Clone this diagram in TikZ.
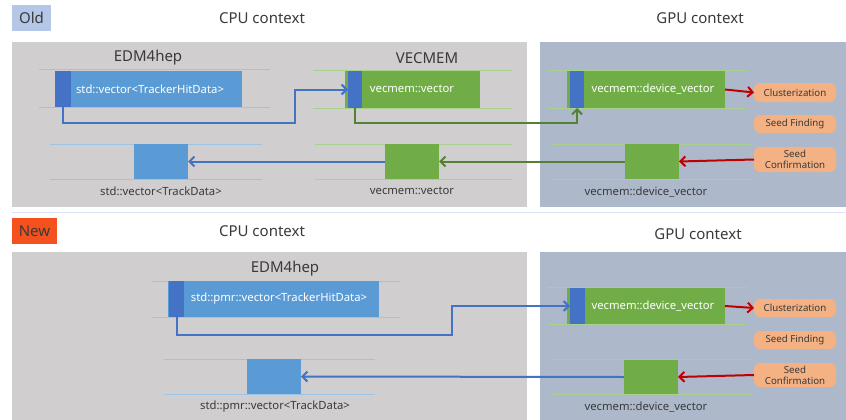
\documentclass[tikz,border=0pt]{standalone}
\usepackage{fontspec}
\setmainfont{Noto Sans}
\usetikzlibrary{arrows.meta}
\definecolor{cpubg}{HTML}{D0CECE}
\definecolor{gpubg}{HTML}{ADB9CA}
\definecolor{oldbg}{HTML}{B4C7E7}
\definecolor{newbg}{HTML}{F4511E}
\definecolor{bfill}{HTML}{5B9BD5}
\definecolor{dblue}{HTML}{4472C4}
\definecolor{gfill}{HTML}{70AD47}
\definecolor{gdark}{HTML}{548235}
\definecolor{bline}{HTML}{9DC3E6}
\definecolor{gline}{HTML}{A9D18E}
\definecolor{ofill}{HTML}{F4B183}
\definecolor{rarr}{HTML}{C00000}
\definecolor{txt}{HTML}{3A3A3A}
\definecolor{sepc}{HTML}{DAE3F3}
\begin{document}
\begin{tikzpicture}[x=1pt,y=-1pt,
  rbox/.style={anchor=north west,inner sep=0pt,outer sep=0pt,draw=none},
  bluebox/.style={rbox,fill=bfill},
  darkbox/.style={rbox,fill=dblue},
  greenbox/.style={rbox,fill=gfill},
  procbox/.style={rbox,fill=ofill,rounded corners=6pt,font=\fontsize{9.7}{11}\selectfont,text=txt,align=center},
  title/.style={font=\fontsize{15}{17}\selectfont,text=txt,inner sep=0pt},
  intext/.style={font=\fontsize{11.3}{13}\selectfont,text=white,inner sep=0pt},
  lbl/.style={font=\fontsize{11.3}{13}\selectfont,text=txt,inner sep=0pt},
  bl/.style={draw=bline,line width=1pt},
  gl/.style={draw=gline,line width=1pt},
  barr/.style={draw=dblue,line width=2pt,-{Straight Barb[length=5pt,width=10pt]}},
  garr/.style={draw=gdark,line width=2pt,-{Straight Barb[length=5pt,width=10pt]}},
  rar/.style={draw=rarr,line width=2pt,-{Straight Barb[length=5pt,width=10pt]}}
]
\useasboundingbox (0,0) rectangle (846,420);
\fill[white] (0,0) rectangle (846,420);

% ================= OLD =================
\fill[cpubg] (12,42) rectangle (527,207);
\fill[gpubg] (540,42) rectangle (846,207);
\node[rbox,fill=oldbg,minimum width=39pt,minimum height=26pt,font=\fontsize{15}{17}\selectfont,text=txt] (oldlbl) at (12,5) {Old};
\node[title] (ocpu) at (262,18) {CPU context};
\node[title] (ogpu) at (700,18) {GPU context};
\node[title] (oedm) at (148,58) {EDM4hep};
\node[title] (ovec) at (427,58) {VECMEM};

% EDM4hep old
\draw[bl] (39,70) -- (270,70);
\draw[bl] (39,107) -- (270,107);
\node[bluebox,minimum width=187pt,minimum height=36pt] (ohv) at (55,71) {};
\node[darkbox,minimum width=16pt,minimum height=36pt] (ohd) at (55,71) {};
\node[intext] (ohvt) at (150,89) {std::vector<TrackerHitData>};
\draw[bl] (50,144) -- (262,144);
\draw[bl] (50,179) -- (262,179);
\node[bluebox,minimum width=54pt,minimum height=35pt] (otd) at (134,144) {};
\node[lbl] (otdl) at (161,191) {std::vector<TrackData>};

% VECMEM old
\draw[gl] (313,71) -- (512,71);
\draw[gl] (313,108) -- (512,108);
\node[greenbox,minimum width=135pt,minimum height=37pt] (ovv) at (345,71) {};
\node[darkbox,minimum width=14pt,minimum height=37pt] (ovb) at (348,71) {};
\node[intext] (ovvt) at (412,89) {vecmem::vector};
\draw[gl] (315,144) -- (512,144);
\draw[gl] (315,179) -- (512,179);
\node[greenbox,minimum width=54pt,minimum height=35pt] (ovt) at (385,144) {};
\node[lbl] (ovtl) at (412,191) {vecmem::vector};

% GPU old
\draw[gl] (548,71) -- (747,71);
\draw[gl] (548,108) -- (747,108);
\node[greenbox,minimum width=158pt,minimum height=37pt] (ogv) at (567,71) {};
\node[darkbox,minimum width=14pt,minimum height=37pt] (ogb) at (570,71) {};
\node[intext] (ogvt) at (653,89) {vecmem::device\_vector};
\draw[gl] (552,144) -- (751,144);
\draw[gl] (552,179) -- (751,179);
\node[greenbox,minimum width=54pt,minimum height=35pt] (ogt) at (625,144) {};
\node[lbl] (ogtl) at (646,192) {vecmem::device\_vector};
\node[procbox,minimum width=82pt,minimum height=19pt] (oc) at (754,83) {Clusterization};
\node[procbox,minimum width=82pt,minimum height=18pt] (osf) at (754,115) {Seed Finding};
\node[procbox,minimum width=82pt,minimum height=25pt] (osc) at (754,147) {Seed\\Confirmation};

% connectors old
\coordinate (ob1) at (295,123);
\coordinate (og1) at (577,123);
\draw[barr] (ohd.south) |- (ob1) |- (ovb.west);
\draw[garr] (ovb.south) |- (og1) -- (ogb.south);
\draw[garr] (ogt.west) -- (ovt.east);
\draw[barr] (ovt.west) -- (otd.east);
\draw[rar] (ogv.east) -- (oc.west);
\draw[rar] (osc.west) -- (ogt.east);

% separator
\draw[draw=sepc,line width=0.8pt] (12,212.5) -- (846,212.5);

% ================= NEW =================
\fill[cpubg] (12,252) rectangle (527,420);
\fill[gpubg] (540,252) rectangle (846,420);
\node[rbox,fill=newbg,minimum width=45pt,minimum height=26pt,font=\fontsize{15}{17}\selectfont,text=txt] (newlbl) at (12,218) {New};
\node[title] (ncpu) at (262,231) {CPU context};
\node[title] (ngpu) at (698,234) {GPU context};
\node[title] (nedm) at (285,269) {EDM4hep};

% EDM4hep new
\draw[bl] (152,281) -- (400,281);
\draw[bl] (152,317) -- (400,317);
\node[bluebox,minimum width=211pt,minimum height=36pt] (nhv) at (168,281) {};
\node[darkbox,minimum width=15pt,minimum height=36pt] (nhd) at (169,281) {};
\node[intext] (nhvt) at (279,299) {std::pmr::vector<TrackerHitData>};
\draw[bl] (164,359) -- (375,359);
\draw[bl] (164,394) -- (375,394);
\node[bluebox,minimum width=54pt,minimum height=35pt] (ntd) at (247,359) {};
\node[lbl] (ntdl) at (275,407) {std::pmr::vector<TrackData>};

% GPU new
\draw[gl] (548,287) -- (747,287);
\draw[gl] (548,324) -- (747,324);
\node[greenbox,minimum width=158pt,minimum height=36pt] (ngv) at (567,288) {};
\node[darkbox,minimum width=15pt,minimum height=36pt] (ngb) at (570,288) {};
\node[intext] (ngvt) at (653,306) {vecmem::device\_vector};
\draw[gl] (552,359) -- (751,359);
\draw[gl] (552,394) -- (751,394);
\node[greenbox,minimum width=54pt,minimum height=34pt] (ngt) at (624,360) {};
\node[lbl] (ngtl) at (646,407) {vecmem::device\_vector};
\node[procbox,minimum width=82pt,minimum height=18pt] (nc) at (754,299) {Clusterization};
\node[procbox,minimum width=82pt,minimum height=18pt] (nsf) at (754,331) {Seed Finding};
\node[procbox,minimum width=82pt,minimum height=24pt] (nsc) at (754,363) {Seed\\Confirmation};

% connectors new
\coordinate (nb1) at (452,335);
\draw[barr] (nhd.south) |- (nb1) |- (ngb.west);
\draw[barr] (ngt.west) -- (ntd.east);
\draw[rar] (ngv.east) -- (nc.west);
\draw[rar] (nsc.west) -- (ngt.east);
\end{tikzpicture}
\end{document}
